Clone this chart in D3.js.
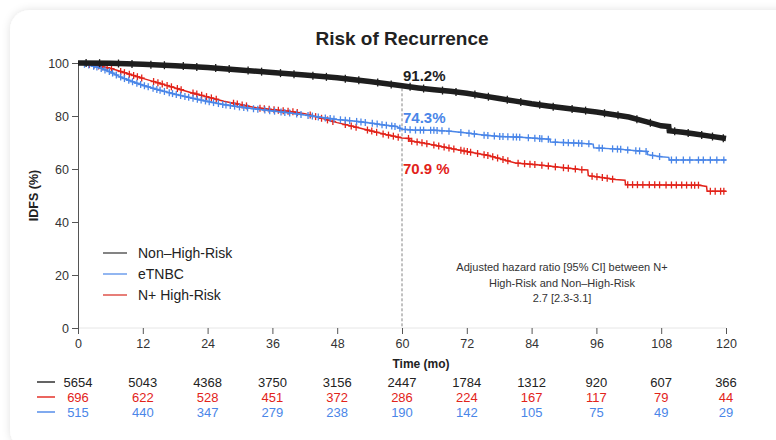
<!DOCTYPE html>
<html><head><meta charset="utf-8">
<script src="https://cdn.jsdelivr.net/npm/d3@7"></script>
<style>
body{margin:0;background:#fff}
svg{display:block;font-family:"Liberation Sans",Arial,Helvetica,sans-serif}
</style>
</head><body>
<svg id="c" width="776" height="440"></svg>
<script>
// ---------------- DATA ----------------
const title = "Risk of Recurrence";
const seriesNames = ["Non–High-Risk", "eTNBC", "N+ High-Risk"];
const xTicks = [0, 12, 24, 36, 48, 60, 72, 84, 96, 108, 120];
const yTicks = [0, 20, 40, 60, 80, 100];

// Non-High-Risk (time in months, IDFS %)
const blackT = [0, 6, 12, 18, 24, 30, 36, 42, 48, 54, 60, 63, 66, 69, 72, 75, 78, 81, 84, 87, 90, 93, 96, 99, 102, 105, 108, 109.4, 109.5, 112, 114, 117, 120];
const blackS = [100, 99.9, 99.5, 99.0, 98.3, 97.4, 96.4, 95.5, 94.4, 93.0, 91.4, 90.6, 89.9, 89.3, 88.6, 87.6, 86.6, 85.6, 84.6, 83.8, 83.0, 82.3, 81.5, 80.6, 79.6, 78.0, 76.3, 76.0, 74.4, 73.9, 73.3, 72.4, 71.5];
const blackCens = [1.5, 4, 7.5, 10, 13.5, 16, 19.5, 22, 25.5, 28, 31.5, 34, 37.5, 40, 43.5, 46, 49.5, 52, 55.5, 58, 61.5, 64, 67.5, 70, 73.5, 76, 79.5, 82, 85.5, 88, 91.5, 94, 97.5, 100, 103.5, 106, 110.5, 113, 115.5, 117.5, 119.5];

// eTNBC
const blueT = [0, 2, 4, 6, 8, 10, 12, 15, 18, 21, 24, 27, 30, 33, 36, 39, 42, 45, 48, 51, 54, 57, 59, 60, 62, 66, 69, 72, 75, 78, 82, 86, 87.4, 87.5, 92, 95.4, 95.5, 100, 104, 105.4, 105.5, 108, 109.4, 109.5, 120];
const blueS = [100, 99.2, 98.2, 96.6, 94.6, 93.0, 91.6, 89.8, 88.2, 86.8, 85.5, 84.3, 83.4, 82.6, 81.9, 81.2, 80.4, 79.5, 78.7, 78.1, 77.4, 76.5, 76.0, 75.0, 74.7, 74.6, 74.2, 73.6, 72.8, 72.3, 72.0, 71.4, 71.2, 70.2, 69.8, 69.4, 68.0, 67.5, 66.8, 66.6, 65.4, 64.6, 64.4, 63.4, 63.4];
const blueCens = [1.2, 2.0, 2.9, 3.5, 4.3, 5.0, 5.8, 6.4, 7.1, 7.9, 8.6, 9.4, 10.1, 10.9, 11.6, 12.3, 13.0, 13.9, 14.6, 15.2, 16.0, 16.9, 17.5, 18.2, 19.0, 19.8, 20.5, 21.3, 22.1, 22.8, 23.6, 24.3, 25.1, 26.0, 26.8, 27.4, 28.2, 29.0, 29.9, 30.7, 31.4, 32.5, 33.3, 34.6, 35.5, 36.4, 37.6, 38.3, 39.2, 40.5, 41.3, 42.6, 43.4, 44.5, 45.8, 46.7, 47.4, 48.6, 49.5, 50.3, 51.6, 52.4, 53.2, 54.5, 55.4, 56.3,
  57.1, 58.1, 58.7, 59.6, 60.6, 61.5, 62.5, 63.4, 64.0, 65.3, 65.9, 66.5, 67.4, 68.7, 70.9, 72.4, 73.4, 75.2, 75.9, 77.1, 78.1, 78.7, 79.6, 80.6, 81.2, 81.8, 83.4, 84.6, 85.5, 85.9, 87.1, 88.4, 89.9, 90.8, 91.8, 92.7, 93.3, 94.6, 96.5, 97.1, 99.0, 99.9, 100.5, 101.8, 103.3, 104.0, 105.2, 106.4, 107.7, 109.9, 110.8, 112.1, 113.3, 114.9, 115.8, 117.1, 118.3, 119.6];

// N+ High-Risk
const redT = [0, 3, 6, 9, 12, 15, 18, 21, 24, 27, 30, 33, 36, 39, 42, 45, 48, 51, 54, 57, 60, 61.4, 61.5, 64, 67, 70, 73, 76, 79, 81, 85, 88, 93, 94.4, 94.5, 97, 99.5, 101.3, 101.4, 115, 116.4, 116.5, 120];
const redS = [100, 99.2, 98.0, 96.1, 94.2, 92.4, 90.6, 88.8, 87.2, 85.6, 84.3, 83.1, 82.4, 81.8, 80.9, 79.2, 77.5, 76.0, 74.5, 73.0, 71.7, 71.5, 70.6, 69.8, 68.6, 67.4, 66.2, 65.1, 63.4, 62.3, 61.6, 60.9, 59.8, 59.6, 57.5, 56.8, 56.0, 55.8, 54.1, 53.9, 53.4, 51.6, 51.6];
const redCens = [2.1, 3.0, 3.8, 4.5, 5.4, 6.2, 7.9, 8.6, 9.5, 10.3, 11.0, 11.8, 14.0, 14.8, 15.6, 16.5, 17.3, 18.4, 19.1, 21.3, 22.0, 22.9, 23.8, 24.7, 25.6, 28.8, 29.5, 30.4, 31.2, 33.7, 34.5, 35.4, 36.3, 37.1, 38.0, 38.9, 39.8, 40.6, 43.0, 44.0, 45.1, 46.2, 47.2, 49.5, 50.6, 51.5, 53.6, 54.4, 55.3,
  56.5, 57.5, 58.4, 59.3, 61.2, 61.8, 62.8, 63.7, 64.6, 65.9, 66.8, 67.8, 68.7, 69.6, 70.9, 71.5, 72.1, 72.7, 74.0, 75.2, 75.9, 76.8, 77.7, 78.7, 79.6, 81.5, 82.7, 83.7, 84.6, 85.9, 87.1, 88.4, 89.9, 90.8, 92.1, 93.3, 95.2, 96.1, 97.1, 98.0, 99.0, 101.8, 102.7, 103.6, 104.6, 105.8, 106.8, 107.7, 108.9, 109.9, 110.8, 111.8, 112.7, 113.6, 114.2, 114.9, 117.1, 118.0, 119.0, 119.6];

// landmark at 60 months
const landmarkTime = 60;
const landmarkLabels = ["91.2%", "74.3%", "70.9 %"];
const landmarkValues = [91.2, 74.3, 70.9];

// numbers at risk (rows: Non-High-Risk, N+ High-Risk, eTNBC)
const riskBlack = [5654, 5043, 4368, 3750, 3156, 2447, 1784, 1312, 920, 607, 366];
const riskRed = [696, 622, 528, 451, 372, 286, 224, 167, 117, 79, 44];
const riskBlue = [515, 440, 347, 279, 238, 190, 142, 105, 75, 49, 29];

const hrText = ["Adjusted hazard ratio [95% CI] between N+", "High-Risk and Non–High-Risk", "2.7 [2.3-3.1]"];

// ---------------- DRAW ----------------
const COL = {black: "#1e1e1e", blue: "#4a86e8", red: "#e2231a"};
const svg = d3.select("#c");

const defs = svg.append("defs");
const f = defs.append("filter").attr("id", "sh").attr("x", "-5%").attr("y", "-5%").attr("width", "110%").attr("height", "110%");
f.append("feDropShadow").attr("dx", 0).attr("dy", 0).attr("stdDeviation", 4).attr("flood-color", "#000").attr("flood-opacity", 0.12);

svg.append("rect").attr("x", 10).attr("y", 10).attr("width", 790).attr("height", 440)
  .attr("rx", 20).attr("fill", "#fff").attr("filter", "url(#sh)");

const x = d3.scaleLinear().domain([0, 120]).range([78, 726]);
const y = d3.scaleLinear().domain([0, 100]).range([328, 63]);

// title
svg.append("text").attr("x", 402).attr("y", 45).attr("text-anchor", "middle")
  .attr("font-size", 19).attr("font-weight", "bold").attr("fill", "#222").text(title);

// x baseline (light)
svg.append("line").attr("x1", x(0)).attr("x2", x(120)).attr("y1", y(0)).attr("y2", y(0))
  .attr("stroke", "#e6e6e6").attr("stroke-width", 1);

// axes
const xAxis = d3.axisBottom(x).tickValues(xTicks).tickSize(6).tickPadding(5).tickSizeOuter(0);
const gx = svg.append("g").attr("transform", `translate(0,${y(0)})`).call(xAxis);
gx.select(".domain").remove();
gx.selectAll("line").attr("stroke", "#555");
gx.selectAll("text").attr("font-size", 12.5).attr("fill", "#333").attr("font-family", null);

const yAxis = d3.axisLeft(y).tickValues(yTicks).tickSize(6).tickPadding(3).tickSizeOuter(0);
const gy = svg.append("g").attr("transform", `translate(${x(0)},0)`).call(yAxis);
gy.select(".domain").attr("stroke", "#555");
gy.selectAll("line").attr("stroke", "#555");
gy.selectAll("text").attr("font-size", 12.5).attr("fill", "#333").attr("font-family", null);

// axis titles
svg.append("text").attr("transform", `translate(38,${(y(0) + y(100)) / 2}) rotate(-90)`)
  .attr("text-anchor", "middle").attr("font-size", 12.5).attr("font-weight", "bold").attr("fill", "#222").text("IDFS (%)");
svg.append("text").attr("x", 421).attr("y", 368).attr("text-anchor", "middle")
  .attr("font-size", 12).attr("font-weight", "bold").attr("fill", "#222").text("Time (mo)");

// landmark dashed line
svg.append("line").attr("x1", x(landmarkTime)).attr("x2", x(landmarkTime))
  .attr("y1", y(landmarkValues[0]) + 2).attr("y2", y(0))
  .attr("stroke", "#666").attr("stroke-width", 0.8).attr("stroke-dasharray", "3,2");

// curves
function pts(T, S) { return T.map((t, i) => [t, S[i]]); }
function valAt(T, S, t) {
  for (let i = 1; i < T.length; i++) {
    if (t <= T[i]) { const a = (t - T[i - 1]) / (T[i] - T[i - 1] || 1); return S[i - 1] + a * (S[i] - S[i - 1]); }
  }
  return S[S.length - 1];
}
const line = d3.line().x(d => x(d[0])).y(d => y(d[1]));

const curves = [
  {T: redT, S: redS, C: redCens, col: COL.red, w: 1.5, mh: 3.5, mw: 3},
  {T: blueT, S: blueS, C: blueCens, col: COL.blue, w: 1.5, mh: 3.5, mw: 3},
  {T: blackT, S: blackS, C: blackCens, col: COL.black, w: 5.5, mh: 4, mw: 2.5}
];
curves.forEach(c => {
  svg.append("path").attr("d", line(pts(c.T, c.S))).attr("fill", "none")
    .attr("stroke", c.col).attr("stroke-width", c.w).attr("stroke-linejoin", "miter");
  const g = svg.append("g").attr("stroke", c.col).attr("stroke-width", 1.3);
  c.C.forEach(t => {
    const cx = x(t), cy = y(valAt(c.T, c.S, t));
    g.append("line").attr("x1", cx).attr("x2", cx).attr("y1", cy - c.mh).attr("y2", cy + c.mh);
    g.append("line").attr("x1", cx - c.mw).attr("x2", cx + c.mw).attr("y1", cy).attr("y2", cy);
  });
});

// landmark labels
const lmCols = [COL.black, COL.blue, COL.red];
const lmY = [81, 123, 173.5];
landmarkLabels.forEach((l, i) => {
  svg.append("text").attr("x", x(landmarkTime) + 1).attr("y", lmY[i])
    .attr("font-size", 15).attr("font-weight", "bold").attr("fill", lmCols[i]).text(l);
});

// legend
const legCols = ["#333", COL.blue, "#d8281f"];
const legY = [253, 274, 295];
seriesNames.forEach((n, i) => {
  svg.append("line").attr("x1", 103).attr("x2", 127).attr("y1", legY[i]).attr("y2", legY[i])
    .attr("stroke", legCols[i]).attr("stroke-width", 1.2);
  svg.append("text").attr("x", 138).attr("y", legY[i] + 5).attr("font-size", 14).attr("fill", "#222").text(n);
});

// hazard ratio annotation
hrText.forEach((t, i) => {
  svg.append("text").attr("x", 562).attr("y", 271 + i * 15.5).attr("text-anchor", "middle")
    .attr("font-size", 11).attr("fill", "#333").text(t);
});

// number at risk table
const rows = [
  {v: riskBlack, col: "#222", y: 387},
  {v: riskRed, col: COL.red, y: 402},
  {v: riskBlue, col: COL.blue, y: 417}
];
rows.forEach(r => {
  svg.append("line").attr("x1", 37).attr("x2", 55).attr("y1", r.y - 5).attr("y2", r.y - 5)
    .attr("stroke", r.col).attr("stroke-width", 1.4);
  r.v.forEach((n, i) => {
    svg.append("text").attr("x", x(xTicks[i])).attr("y", r.y).attr("text-anchor", "middle")
      .attr("font-size", 13).attr("fill", r.col).text(n);
  });
});
</script>
</body></html>
